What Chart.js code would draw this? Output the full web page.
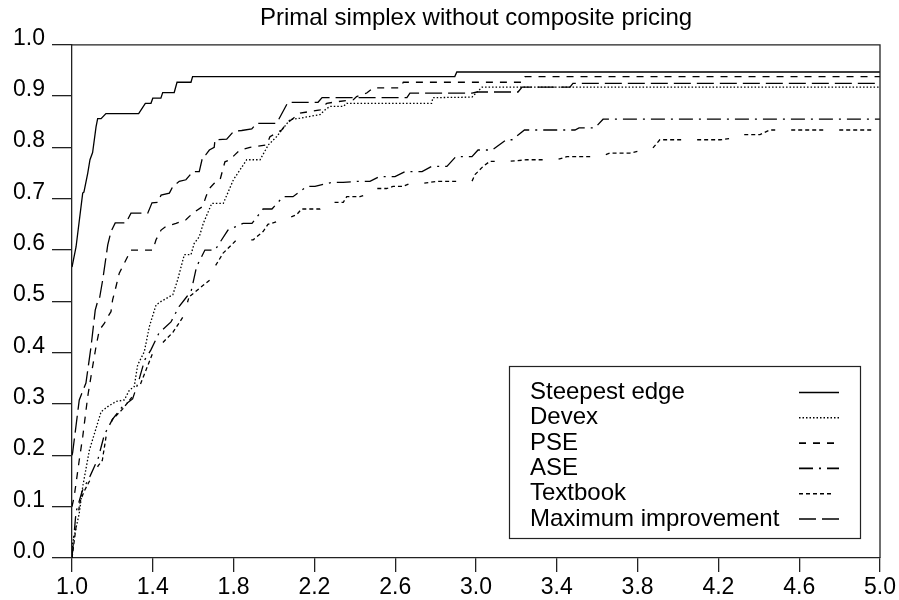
<!DOCTYPE html>
<html>
<head>
<meta charset="utf-8">
<title>Primal simplex without composite pricing</title>
<script src="https://cdn.jsdelivr.net/npm/chart.js@4.4.1/dist/chart.umd.min.js"></script>
<style>
  body { margin: 0; background: #fff; }
  #wrap { width: 899px; height: 600px; }
</style>
</head>
<body>
<div id="wrap"><canvas id="chart" width="899" height="600"></canvas></div>
<script>
// tick values
const xTicks = [1.0, 1.4, 1.8, 2.2, 2.6, 3.0, 3.4, 3.8, 4.2, 4.6, 5.0];
const yTicks = [0.0, 0.1, 0.2, 0.3, 0.4, 0.5, 0.6, 0.7, 0.8, 0.9, 1.0];

const titleText = 'Primal simplex without composite pricing';
const seriesNames = ['Steepest edge', 'Devex', 'PSE', 'ASE', 'Textbook', 'Maximum improvement'];

// [ratio, fraction]
const steepestEdge = [
  [1.0,0.567],[1.02,0.606],[1.053,0.711],[1.059,0.713],[1.078,0.75],[1.089,0.776],[1.102,0.79],
  [1.119,0.84],[1.127,0.856],[1.144,0.856],[1.168,0.866],[1.33,0.866],[1.363,0.886],[1.391,0.886],
  [1.40,0.896],[1.44,0.896],[1.449,0.907],[1.506,0.907],[1.52,0.927],[1.589,0.927],[1.597,0.938],
  [2.895,0.938],[2.905,0.947],[5.0,0.947]
];
const devex = [
  [1.0,0.0],[1.003,0.029],[1.036,0.087],[1.053,0.139],[1.086,0.21],[1.144,0.285],[1.177,0.295],
  [1.218,0.305],[1.259,0.308],[1.284,0.327],[1.308,0.334],[1.325,0.376],[1.358,0.402],[1.383,0.451],
  [1.416,0.493],[1.441,0.50],[1.499,0.513],[1.523,0.542],[1.556,0.591],[1.589,0.591],[1.605,0.613],
  [1.63,0.626],[1.65,0.652],[1.692,0.691],[1.749,0.691],[1.799,0.737],[1.865,0.776],[1.931,0.776],
  [1.972,0.805],[2.013,0.821],[2.079,0.854],[2.129,0.857],[2.228,0.864],[2.252,0.873],[2.277,0.88],
  [2.343,0.88],[2.36,0.886],[2.78,0.886],[2.787,0.897],[2.98,0.898],[3.03,0.9175],[5.0,0.9175]
];
const pse = [
  [1.0,0.10],[1.011,0.12],[1.036,0.191],[1.053,0.236],[1.078,0.315],[1.102,0.373],[1.119,0.412],
  [1.135,0.444],[1.16,0.457],[1.177,0.47],[1.193,0.48],[1.201,0.503],[1.218,0.529],[1.234,0.555],
  [1.284,0.594],[1.292,0.60],[1.40,0.60],[1.416,0.62],[1.441,0.639],[1.465,0.646],[1.515,0.652],
  [1.564,0.659],[1.598,0.672],[1.647,0.685],[1.663,0.704],[1.68,0.72],[1.704,0.73],[1.733,0.737],
  [1.757,0.772],[1.782,0.776],[1.807,0.786],[1.832,0.795],[1.881,0.80],[1.964,0.805],[1.98,0.821],
  [2.038,0.834],[2.063,0.847],[2.096,0.857],[2.129,0.867],[2.228,0.873],[2.261,0.886],[2.31,0.889],
  [2.393,0.893],[2.409,0.899],[2.459,0.906],[2.492,0.916],[2.624,0.916],[2.64,0.927],[3.228,0.927],
  [3.243,0.938],[5.0,0.938]
];
const ase = [
  [1.0,0.0],[1.02,0.09],[1.05,0.13],[1.09,0.16],[1.13,0.195],[1.16,0.24],[1.2,0.27],[1.25,0.295],
  [1.3,0.31],[1.33,0.345],[1.36,0.386],[1.39,0.405],[1.43,0.438],[1.49,0.46],[1.53,0.49],[1.57,0.51],
  [1.59,0.52],[1.617,0.568],[1.658,0.60],[1.708,0.60],[1.772,0.639],[1.847,0.652],[1.891,0.652],
  [1.946,0.68],[1.99,0.68],[2.045,0.704],[2.094,0.704],[2.163,0.724],[2.203,0.724],[2.287,0.732],
  [2.342,0.732],[2.416,0.734],[2.475,0.734],[2.52,0.743],[2.599,0.743],[2.65,0.753],[2.733,0.753],
  [2.78,0.763],[2.856,0.763],[2.90,0.782],[2.98,0.782],[3.01,0.795],[3.08,0.795],[3.15,0.815],
  [3.178,0.815],[3.24,0.834],[3.49,0.834],[3.51,0.838],[3.589,0.838],[3.629,0.855],[5.0,0.855]
];
const textbook = [
  [1.0,0.0],[1.02,0.06],[1.04,0.11],[1.06,0.13],[1.1,0.16],[1.13,0.18],[1.15,0.19],[1.17,0.24],
  [1.2,0.27],[1.25,0.29],[1.29,0.31],[1.33,0.33],[1.37,0.37],[1.4,0.4],[1.45,0.42],[1.5,0.44],
  [1.55,0.47],[1.58,0.509],[1.683,0.542],[1.708,0.568],[1.748,0.594],[1.815,0.62],[1.897,0.62],
  [1.946,0.636],[1.97,0.65],[2.054,0.66],[2.112,0.669],[2.137,0.68],[2.228,0.68],[2.286,0.693],
  [2.343,0.693],[2.36,0.704],[2.426,0.704],[2.475,0.711],[2.508,0.72],[2.558,0.72],[2.589,0.724],
  [2.639,0.724],[2.673,0.73],[2.738,0.73],[2.807,0.734],[2.98,0.734],[2.995,0.747],[3.035,0.763],
  [3.069,0.773],[3.168,0.773],[3.252,0.776],[3.40,0.776],[3.45,0.782],[3.614,0.782],[3.663,0.789],
  [3.762,0.789],[3.876,0.799],[3.91,0.815],[4.21,0.815],[4.27,0.818],[4.307,0.825],[4.406,0.825],
  [4.455,0.834],[5.0,0.834]
];
const maxImprovement = [
  [1.0,0.2],[1.003,0.205],[1.036,0.308],[1.069,0.341],[1.094,0.411],[1.115,0.483],[1.127,0.50],
  [1.135,0.503],[1.152,0.542],[1.177,0.61],[1.193,0.636],[1.214,0.653],[1.267,0.653],[1.292,0.672],
  [1.375,0.672],[1.396,0.692],[1.424,0.693],[1.441,0.707],[1.482,0.711],[1.499,0.724],[1.531,0.734],
  [1.564,0.737],[1.598,0.753],[1.63,0.753],[1.647,0.782],[1.663,0.786],[1.68,0.795],[1.704,0.80],
  [1.708,0.815],[1.766,0.816],[1.799,0.831],[1.84,0.833],[1.89,0.836],[1.914,0.847],[2.013,0.847],
  [2.069,0.888],[2.218,0.888],[2.238,0.897],[2.658,0.897],[2.673,0.906],[2.98,0.906],[3.005,0.908],
  [3.208,0.908],[3.228,0.9175],[3.465,0.9175],[3.48,0.925],[5.0,0.925]
];

const seriesData = [steepestEdge, devex, pse, ase, textbook, maxImprovement];
const seriesDash = [
  [],
  [1.5, 2],
  [7, 7],
  [14, 6, 2, 6],
  [4, 3, 4, 3, 4, 3, 4, 3, 4, 16],
  [17, 6]
];
// legend sample lengths (textbook sample is shorter in the original)
const legendSampleLen = [40, 40, 40, 40, 33, 40];

const fontFamily = '"Liberation Sans", Arial, Helvetica, sans-serif';
Chart.defaults.font.family = fontFamily;
Chart.defaults.color = '#000';

const toPoints = (arr) => arr.map(([x, y]) => ({ x: x, y: y }));

const frame = {
  id: 'frame',
  afterDatasetsDraw(chart) {
    const { ctx, chartArea } = chart;
    ctx.save();
    ctx.strokeStyle = '#222';
    ctx.lineWidth = 1.3;
    ctx.beginPath();
    ctx.moveTo(chartArea.left, chartArea.top);
    ctx.lineTo(chartArea.right, chartArea.top);
    ctx.lineTo(chartArea.right, chartArea.bottom);
    ctx.stroke();
    ctx.restore();
  }
};

const legendBox = {
  id: 'legendBox',
  afterDraw(chart) {
    const { ctx, chartArea } = chart;
    const boxW = 351, boxH = 172;
    const bx = chartArea.right - 20 - boxW;
    const by = chartArea.bottom - 20 - boxH;
    ctx.save();
    ctx.fillStyle = '#fff';
    ctx.fillRect(bx, by, boxW, boxH);
    ctx.strokeStyle = '#222';
    ctx.lineWidth = 1.2;
    ctx.strokeRect(bx + 0.5, by + 0.5, boxW, boxH);
    ctx.font = '24px ' + fontFamily;
    ctx.textBaseline = 'middle';
    ctx.fillStyle = '#000';
    chart.data.datasets.forEach((ds, i) => {
      const cy = by + 26.5 + i * 25.3;
      ctx.fillText(ds.label, bx + 21, cy);
      ctx.beginPath();
      ctx.setLineDash(ds.borderDash || []);
      ctx.lineWidth = 1.6;
      ctx.strokeStyle = '#000';
      ctx.moveTo(bx + 290, cy);
      ctx.lineTo(bx + 290 + legendSampleLen[i], cy);
      ctx.stroke();
    });
    ctx.restore();
  }
};

new Chart(document.getElementById('chart'), {
  type: 'line',
  data: {
    datasets: seriesNames.map((name, i) => ({
      label: name,
      data: toPoints(seriesData[i]),
      borderColor: '#000',
      borderWidth: 1.3,
      borderDash: seriesDash[i],
      pointRadius: 0,
      fill: false,
      tension: 0
    }))
  },
  options: {
    responsive: false,
    animation: false,
    devicePixelRatio: 1,
    layout: { padding: { top: 0, right: 19, bottom: 0, left: 0 } },
    plugins: {
      legend: { display: false },
      tooltip: { enabled: false },
      title: {
        display: true,
        text: titleText,
        fullSize: false,
        color: '#000',
        font: { size: 24, weight: 'normal' },
        padding: { top: 4, bottom: 12 }
      }
    },
    scales: {
      x: {
        type: 'linear',
        min: 1,
        max: 5,
        afterBuildTicks: (scale) => { scale.ticks = xTicks.map((v) => ({ value: v })); },
        afterFit: (scale) => { scale.height = 42; scale.paddingLeft = 0; scale.paddingRight = 0; },
        grid: { drawOnChartArea: false, drawTicks: true, tickLength: 14, color: '#222', lineWidth: 1.3 },
        border: { display: true, color: '#222', width: 1.3 },
        ticks: {
          padding: 2,
          maxRotation: 0,
          autoSkip: false,
          font: { size: 23 },
          color: '#000',
          callback: (v) => Number(v).toFixed(1)
        }
      },
      y: {
        type: 'linear',
        min: 0,
        max: 1,
        afterBuildTicks: (scale) => { scale.ticks = yTicks.map((v) => ({ value: v })); },
        afterFit: (scale) => { scale.width = 72; scale.paddingTop = 0; scale.paddingBottom = 0; },
        grid: { drawOnChartArea: false, drawTicks: true, tickLength: 20, color: '#222', lineWidth: 1.3 },
        border: { display: true, color: '#222', width: 1.3 },
        ticks: {
          padding: 7,
          labelOffset: -6.5,
          autoSkip: false,
          font: { size: 23 },
          color: '#000',
          callback: (v) => Number(v).toFixed(1)
        }
      }
    }
  },
  plugins: [frame, legendBox]
});
</script>
</body>
</html>
